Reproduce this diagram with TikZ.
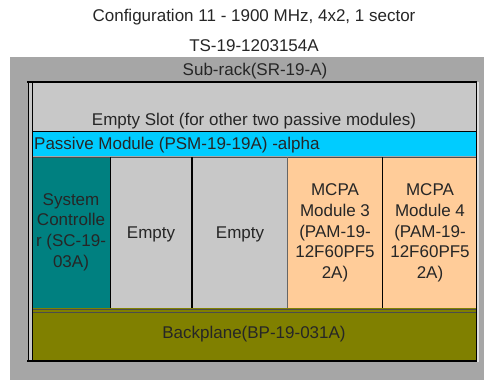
\documentclass[tikz,border=0pt]{standalone}
\usepackage{fontspec}
\setmainfont{Liberation Sans}
\definecolor{rackgray}{HTML}{A6A6A6}
\definecolor{slotgray}{HTML}{C8C8C8}
\definecolor{psmcyan}{HTML}{00CCFF}
\definecolor{scteal}{HTML}{008080}
\definecolor{mcpapeach}{HTML}{FFCC99}
\definecolor{bpolive}{HTML}{808000}
\begin{document}
\begin{tikzpicture}[x=1pt,y=-1pt,
  lbl/.style={font=\fontsize{17}{20}\selectfont, text=black!85, inner sep=0pt},
  modtxt/.style={font=\fontsize{17}{20.7}\selectfont, text=black!85, align=center, inner sep=0pt},
]
\useasboundingbox (0,0) rectangle (484,380);
\fill[white] (0,0) rectangle (484,380);
% titles
\node[lbl] (title) at (254,17) {Configuration 11 - 1900 MHz, 4x2, 1 sector};
\node[lbl] (ts) at (254,46) {TS-19-1203154A};
% sub-rack
\fill[rackgray] (10,57) rectangle (484,380);
\node[lbl] (sr) at (255,71) {Sub-rack(SR-19-A)};
% left bar
\draw[fill=slotgray, line width=0.8pt] (28,82) rectangle (32,361);
% right bar
\fill[slotgray!60] (477,82) rectangle (479,362);
% empty slot
\fill[slotgray] (32,83) rectangle (476,131);
\node[lbl] (es) at (254,121) {Empty Slot (for other two passive modules)};
% passive module
\fill[psmcyan] (32,132) rectangle (476,156);
\node[lbl, anchor=west] (psm) at (34,145) {Passive Module (PSM-19-19A) -alpha};
% modules
\fill[scteal] (32,157) rectangle (110,308);
\fill[slotgray] (111,157) rectangle (192,308);
\fill[slotgray] (193,157) rectangle (287,308);
\fill[mcpapeach] (288,157) rectangle (382,308);
\fill[mcpapeach] (383,157) rectangle (476,308);
\draw[black!70, line width=1pt] (32,157.5) -- (476,157.5);
\draw[black, line width=1.4pt] (110.5,157) -- (110.5,309);
\draw[black, line width=1.4pt] (192,157) -- (192,309);
\draw[black!60, line width=0.8pt] (287.5,157) -- (287.5,309);
\draw[black, line width=1.6pt] (382.5,157) -- (382.5,309);
\node[modtxt] (sc) at (71,232) {System\\Controlle\\r (SC-19-\\03A)};
\node[modtxt] (e1) at (151,234) {Empty};
\node[modtxt] (e2) at (240,234) {Empty};
\node[modtxt] (m3) at (335,233) {MCPA\\Module 3\\(PAM-19-\\12F60PF5\\2A)};
\node[modtxt] (m4) at (430,233) {MCPA\\Module 4\\(PAM-19-\\12F60PF5\\2A)};
% backplane
\fill[bpolive] (32,308) rectangle (476,360);
\draw[black!70, line width=0.8pt] (32,309) -- (476,309);
\draw[black!70, line width=0.8pt] (32,312.5) -- (476,312.5);
\node[lbl] (bp) at (254,334) {Backplane(BP-19-031A)};
% frame lines
\draw[black, line width=1.8pt] (27,82) -- (477,82);
\draw[black, line width=1.6pt] (32,131.5) -- (477,131.5);
\draw[black, line width=1.8pt] (476.5,82) -- (476.5,362);
\draw[black, line width=1.8pt] (27,361) -- (477,361);
\draw[black, line width=0.8pt] (32,82) -- (32,361);
\end{tikzpicture}
\end{document}
